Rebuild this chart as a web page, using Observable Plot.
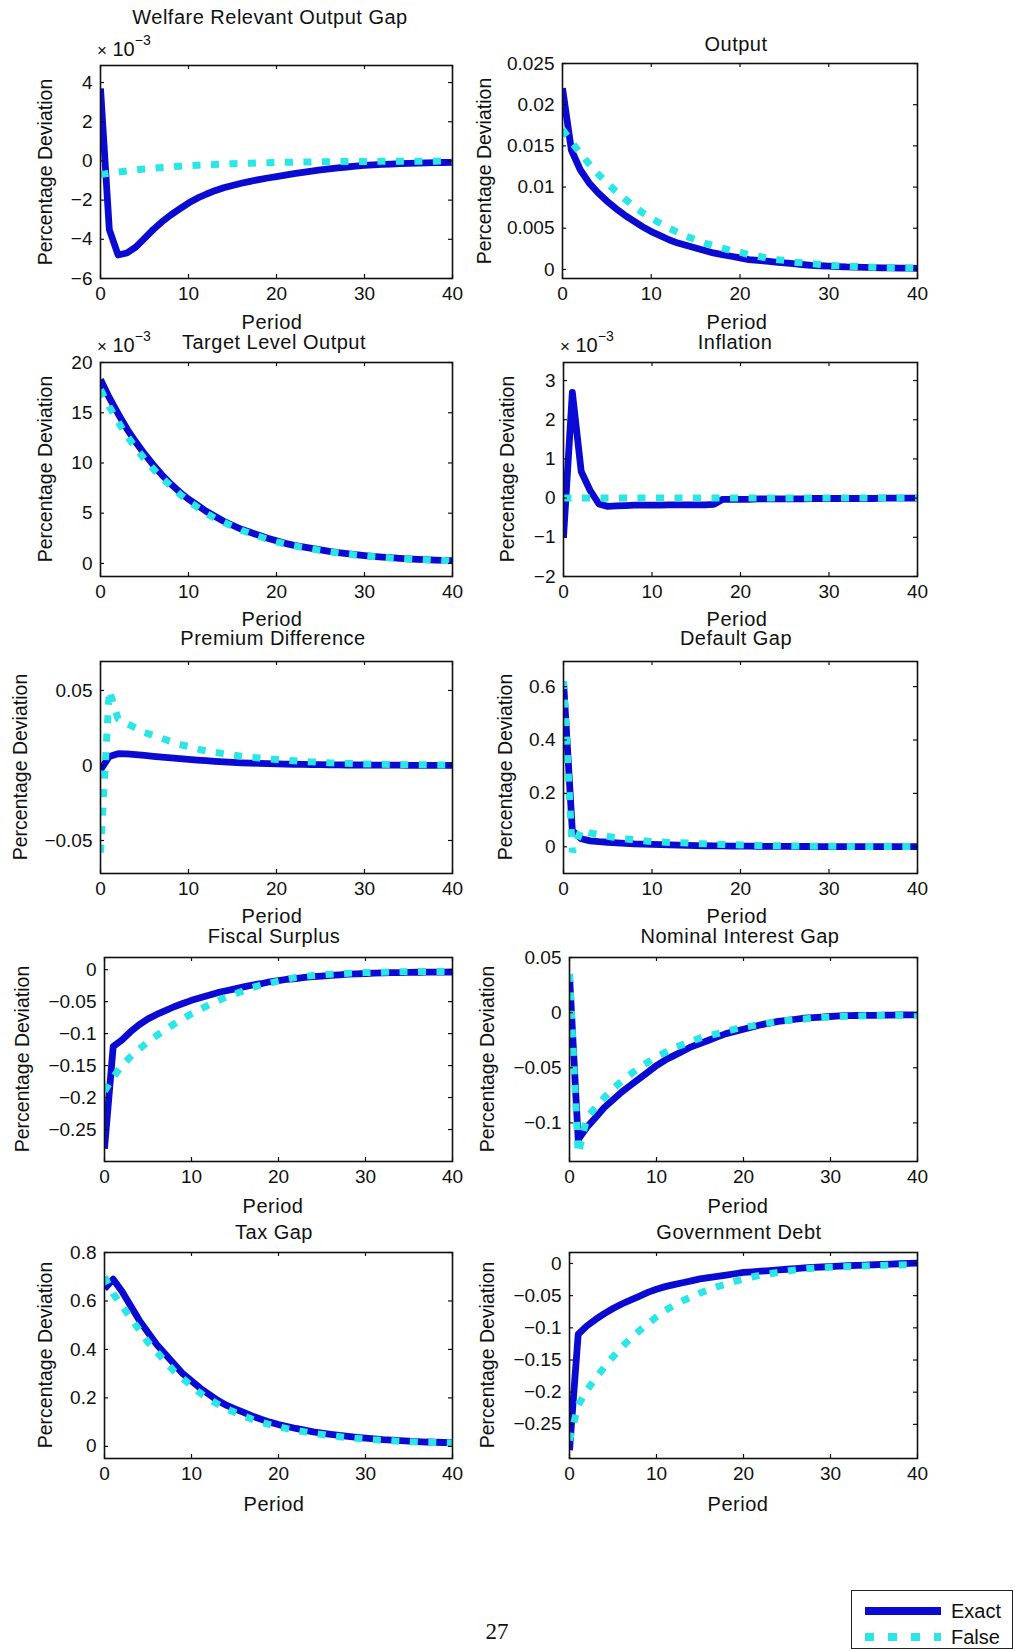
<!DOCTYPE html>
<html><head><meta charset="utf-8">
<script src="https://cdn.jsdelivr.net/npm/d3@7"></script>
<script src="https://cdn.jsdelivr.net/npm/@observablehq/plot@0.6"></script>
<style>
html,body{margin:0;padding:0;background:#fff;}
#page{position:relative;width:1015px;height:1649px;overflow:hidden;background:#fff;font-family:"Liberation Sans",Arial,sans-serif;color:#111;}
.t{position:absolute;white-space:nowrap;transform:translate(-50%,-50%);font-size:20px;line-height:0.82;letter-spacing:0.5px;}
.yl{position:absolute;white-space:nowrap;transform:translate(-50%,-50%) rotate(-90deg);font-size:19.5px;line-height:1;}
.ex{position:absolute;white-space:nowrap;font-size:20px;line-height:1;}
.ex sup{font-size:14px;position:relative;top:-3px;}
</style></head><body><div id="page"></div>
<script>
// ---------- data ----------
const periods = d3.range(0, 41);
const xTicks = [0, 10, 20, 30, 40];
const seriesNames = ["Exact", "False"];

const welfare_exact = [3.7, -3.5, -4.8, -4.7, -4.4, -3.95, -3.5, -3.1, -2.75, -2.45, -2.15, -1.9, -1.7, -1.52, -1.37, -1.25, -1.14, -1.04, -0.95, -0.87, -0.8, -0.72, -0.65, -0.58, -0.52, -0.46, -0.4, -0.35, -0.31, -0.27, -0.23, -0.2, -0.18, -0.16, -0.14, -0.12, -0.11, -0.1, -0.09, -0.08, -0.07];
const welfare_false = [-0.7, -0.63, -0.57, -0.51, -0.46, -0.41, -0.37, -0.33, -0.3, -0.27, -0.24, -0.22, -0.2, -0.18, -0.16, -0.14, -0.13, -0.12, -0.1, -0.09, -0.08, -0.07, -0.065, -0.06, -0.05, -0.045, -0.04, -0.035, -0.03, -0.028, -0.025, -0.022, -0.02, -0.018, -0.016, -0.014, -0.012, -0.011, -0.01, -0.009, -0.008];

const output_exact = [0.022, 0.0145, 0.0121, 0.0105, 0.0093, 0.0083, 0.0074, 0.0066, 0.0059, 0.0052, 0.0046, 0.0041, 0.0036, 0.0032, 0.0029, 0.0026, 0.0023, 0.002, 0.0018, 0.0016, 0.0014, 0.0012, 0.0011, 0.001, 0.0009, 0.0008, 0.0007, 0.0006, 0.0005, 0.00045, 0.0004, 0.00035, 0.0003, 0.00028, 0.00025, 0.00023, 0.0002, 0.00018, 0.00016, 0.00015, 0.00014];
const output_false = [0.017, 0.0155, 0.0141, 0.0128, 0.0116, 0.0105, 0.0095, 0.0086, 0.0077, 0.0069, 0.0062, 0.0056, 0.005, 0.0045, 0.004, 0.0036, 0.0032, 0.0029, 0.0026, 0.0023, 0.0021, 0.0018, 0.0016, 0.0014, 0.0012, 0.0011, 0.0009, 0.0008, 0.0007, 0.0006, 0.0005, 0.00045, 0.0004, 0.00036, 0.00032, 0.00028, 0.00025, 0.00022, 0.0002, 0.00018, 0.00016];

const target_exact = [18.3, 16.5, 14.9, 13.4, 12.1, 10.9, 9.8, 8.8, 7.9, 7.1, 6.4, 5.8, 5.2, 4.7, 4.2, 3.8, 3.4, 3.1, 2.8, 2.5, 2.25, 2.0, 1.8, 1.65, 1.5, 1.35, 1.2, 1.08, 0.97, 0.87, 0.78, 0.7, 0.63, 0.57, 0.51, 0.46, 0.41, 0.37, 0.33, 0.3, 0.27];
const target_false = [17.3, 15.6, 14.1, 12.7, 11.5, 10.4, 9.4, 8.5, 7.7, 6.9, 6.2, 5.6, 5.0, 4.5, 4.1, 3.7, 3.3, 3.0, 2.7, 2.4, 2.15, 1.95, 1.75, 1.6, 1.45, 1.3, 1.17, 1.05, 0.95, 0.85, 0.76, 0.68, 0.61, 0.55, 0.5, 0.45, 0.4, 0.36, 0.32, 0.29, 0.26];

const inflation_exact = [-1.0, 2.7, 0.68, 0.2, -0.15, -0.21, -0.2, -0.19, -0.18, -0.18, -0.18, -0.18, -0.17, -0.17, -0.17, -0.17, -0.17, -0.16, -0.03, -0.03, -0.03, -0.03, -0.02, -0.02, -0.02, -0.02, -0.02, -0.02, -0.01, -0.01, -0.01, -0.01, -0.01, -0.01, -0.01, -0.01, 0, 0, 0, 0, 0];
const inflation_false = [0, 0, 0, 0, 0, 0, 0, 0, 0, 0, 0, 0, 0, 0, 0, 0, 0, 0, 0, 0, 0, 0, 0, 0, 0, 0, 0, 0, 0, 0, 0, 0, 0, 0, 0, 0, 0, 0, 0, 0, 0];

const premium_exact = [-0.003, 0.006, 0.0078, 0.0077, 0.0072, 0.0067, 0.0061, 0.0056, 0.0051, 0.0046, 0.0041, 0.0036, 0.0032, 0.0028, 0.0024, 0.0021, 0.0018, 0.0016, 0.0014, 0.0012, 0.001, 0.0009, 0.0008, 0.0007, 0.0006, 0.0005, 0.0004, 0.0004, 0.0003, 0.0003, 0.0003, 0.0002, 0.0002, 0.0002, 0.0002, 0.0001, 0.0001, 0.0001, 0.0001, 0.0001, 0.0001];
const premium_false = [-0.058, 0.05, 0.031, 0.028, 0.025, 0.022, 0.02, 0.018, 0.016, 0.014, 0.0127, 0.011, 0.0097, 0.0087, 0.0079, 0.007, 0.0062, 0.0056, 0.005, 0.0045, 0.004, 0.0035, 0.0031, 0.0027, 0.0024, 0.0021, 0.0018, 0.0016, 0.0014, 0.0012, 0.001, 0.0009, 0.0008, 0.0007, 0.0006, 0.0005, 0.0004, 0.0004, 0.0003, 0.0003, 0.0002];

const default_exact = [0.62, 0.06, 0.03, 0.022, 0.019, 0.017, 0.015, 0.013, 0.011, 0.01, 0.009, 0.008, 0.007, 0.006, 0.005, 0.0045, 0.004, 0.0036, 0.0032, 0.0028, 0.0025, 0.0022, 0.002, 0.0018, 0.0016, 0.0014, 0.0013, 0.0012, 0.0011, 0.001, 0.0009, 0.0008, 0.0008, 0.0007, 0.0007, 0.0006, 0.0006, 0.0005, 0.0005, 0.0005, 0.0005];
const default_false = [0.62, -0.02, 0.065, 0.052, 0.045, 0.039, 0.034, 0.03, 0.026, 0.023, 0.02, 0.018, 0.016, 0.015, 0.014, 0.012, 0.011, 0.01, 0.009, 0.008, 0.007, 0.006, 0.005, 0.0045, 0.004, 0.0035, 0.003, 0.0027, 0.0024, 0.0021, 0.0019, 0.0017, 0.0015, 0.0014, 0.0013, 0.0012, 0.0011, 0.001, 0.001, 0.001, 0.001];

const fiscal_exact = [-0.28, -0.12, -0.11, -0.097, -0.086, -0.077, -0.07, -0.064, -0.058, -0.053, -0.048, -0.044, -0.04, -0.036, -0.033, -0.03, -0.027, -0.024, -0.022, -0.019, -0.017, -0.015, -0.014, -0.012, -0.011, -0.01, -0.009, -0.008, -0.007, -0.0065, -0.006, -0.0055, -0.005, -0.0047, -0.0045, -0.0043, -0.0041, -0.004, -0.0039, -0.0038, -0.0037];
const fiscal_false = [-0.19, -0.168, -0.15, -0.136, -0.124, -0.113, -0.103, -0.094, -0.085, -0.077, -0.069, -0.062, -0.055, -0.049, -0.043, -0.038, -0.033, -0.028, -0.024, -0.021, -0.018, -0.015, -0.012, -0.0105, -0.0092, -0.0081, -0.0072, -0.0064, -0.0057, -0.0051, -0.0046, -0.0042, -0.0039, -0.0036, -0.0034, -0.0032, -0.003, -0.0029, -0.0028, -0.0027, -0.0026];

const nominal_exact = [0.034, -0.115, -0.104, -0.095, -0.086, -0.079, -0.072, -0.066, -0.06, -0.054, -0.048, -0.043, -0.039, -0.035, -0.031, -0.028, -0.025, -0.022, -0.019, -0.017, -0.015, -0.013, -0.011, -0.0095, -0.008, -0.007, -0.006, -0.005, -0.0045, -0.004, -0.0035, -0.003, -0.0028, -0.0026, -0.0025, -0.0024, -0.0023, -0.0022, -0.0021, -0.002, -0.002];
const nominal_false = [0.035, -0.128, -0.095, -0.086, -0.077, -0.069, -0.062, -0.056, -0.05, -0.045, -0.04, -0.036, -0.032, -0.029, -0.026, -0.023, -0.021, -0.019, -0.017, -0.015, -0.013, -0.012, -0.0105, -0.0093, -0.008, -0.0072, -0.0064, -0.0057, -0.005, -0.0045, -0.004, -0.0035, -0.0032, -0.003, -0.0028, -0.0026, -0.0025, -0.0024, -0.0023, -0.0022, -0.002];

const tax_exact = [0.65, 0.69, 0.64, 0.58, 0.52, 0.47, 0.42, 0.38, 0.34, 0.3, 0.27, 0.24, 0.215, 0.19, 0.17, 0.155, 0.14, 0.125, 0.112, 0.1, 0.09, 0.082, 0.074, 0.067, 0.06, 0.055, 0.05, 0.045, 0.041, 0.037, 0.034, 0.031, 0.028, 0.026, 0.024, 0.022, 0.02, 0.018, 0.017, 0.016, 0.015];
const tax_false = [0.7, 0.63, 0.58, 0.53, 0.48, 0.43, 0.39, 0.35, 0.31, 0.28, 0.25, 0.22, 0.195, 0.175, 0.155, 0.14, 0.125, 0.112, 0.1, 0.09, 0.081, 0.073, 0.066, 0.06, 0.054, 0.049, 0.044, 0.04, 0.036, 0.033, 0.03, 0.027, 0.025, 0.023, 0.021, 0.019, 0.018, 0.017, 0.016, 0.015, 0.014];

const debt_exact = [-0.29, -0.11, -0.097, -0.087, -0.078, -0.07, -0.063, -0.057, -0.051, -0.045, -0.04, -0.036, -0.033, -0.03, -0.027, -0.024, -0.022, -0.02, -0.018, -0.016, -0.014, -0.013, -0.012, -0.011, -0.01, -0.009, -0.008, -0.007, -0.0062, -0.0055, -0.0048, -0.0042, -0.0036, -0.003, -0.0025, -0.002, -0.0015, -0.001, -0.0005, 0, 0.0005];
const debt_false = [-0.275, -0.22, -0.197, -0.178, -0.161, -0.145, -0.13, -0.117, -0.105, -0.094, -0.083, -0.073, -0.065, -0.058, -0.052, -0.046, -0.041, -0.036, -0.032, -0.028, -0.024, -0.021, -0.018, -0.016, -0.014, -0.012, -0.01, -0.0085, -0.0075, -0.0068, -0.006, -0.0054, -0.0048, -0.0043, -0.0038, -0.0033, -0.003, -0.0027, -0.0024, -0.0021, -0.002];

const welfareTicks = [-6, -4, -2, 0, 2, 4];
const outputTicks = [0, 0.005, 0.01, 0.015, 0.02, 0.025];
const targetTicks = [0, 5, 10, 15, 20];
const inflationTicks = [-2, -1, 0, 1, 2, 3];
const premiumTicks = [-0.05, 0, 0.05];
const defaultTicks = [0, 0.2, 0.4, 0.6];
const fiscalTicks = [-0.25, -0.2, -0.15, -0.1, -0.05, 0];
const nominalTicks = [-0.1, -0.05, 0, 0.05];
const taxTicks = [0, 0.2, 0.4, 0.6, 0.8];
const debtTicks = [-0.25, -0.2, -0.15, -0.1, -0.05, 0];

// ---------- layout ----------
const panels = [
  {title: "Welfare Relevant Output Gap", ex: welfare_exact, fa: welfare_false, ticks: welfareTicks, dom: [-6, 4.87],
   frame: [100, 452, 65, 278], tXY: [270, 17], pXY: [272, 322], ylX: 46, exp: [97, 36]},
  {title: "Output", ex: output_exact, fa: output_false, ticks: outputTicks, dom: [-0.0011, 0.025],
   frame: [562, 917, 63, 278], tXY: [736, 44], pXY: [737, 322], ylX: 485},
  {title: "Target Level Output", ex: target_exact, fa: target_false, ticks: targetTicks, dom: [-1.3, 20],
   frame: [100, 452, 362, 576], tXY: [274, 342], pXY: [272, 619], ylX: 46, exp: [97, 332]},
  {title: "Inflation", ex: inflation_exact, fa: inflation_false, ticks: inflationTicks, dom: [-2, 3.46],
   frame: [563, 917, 362, 576], tXY: [735, 342], pXY: [737, 619], ylX: 508, exp: [560, 332]},
  {title: "Premium Difference", ex: premium_exact, fa: premium_false, ticks: premiumTicks, dom: [-0.072, 0.0693],
   frame: [100, 452, 661, 873], tXY: [273, 638], pXY: [272, 916], ylX: 21},
  {title: "Default Gap", ex: default_exact, fa: default_false, ticks: defaultTicks, dom: [-0.1, 0.694],
   frame: [563, 917, 661, 873], tXY: [736, 638], pXY: [737, 916], ylX: 506},
  {title: "Fiscal Surplus", ex: fiscal_exact, fa: fiscal_false, ticks: fiscalTicks, dom: [-0.3, 0.019],
   frame: [104, 452, 957, 1161], tXY: [274, 936], pXY: [273, 1206], ylX: 23},
  {title: "Nominal Interest Gap", ex: nominal_exact, fa: nominal_false, ticks: nominalTicks, dom: [-0.135, 0.05],
   frame: [569, 917, 957, 1161], tXY: [740, 936], pXY: [738, 1206], ylX: 488},
  {title: "Tax Gap", ex: tax_exact, fa: tax_false, ticks: taxTicks, dom: [-0.05, 0.8],
   frame: [104, 452, 1252, 1458], tXY: [274, 1232], pXY: [274, 1504], ylX: 46},
  {title: "Government Debt", ex: debt_exact, fa: debt_false, ticks: debtTicks, dom: [-0.303, 0.017],
   frame: [569, 917, 1252, 1458], tXY: [739, 1232], pXY: [738, 1504], ylX: 488}
];

const EXACT = "#0a0ad2";
const FALSE = "#2ae6e6";
const INK = "#111";
const M = {l: 90, r: 12, t: 12, b: 36};
const fmt = d3.format("~g");
const page = document.getElementById("page");

function addDiv(cls, html, x, y) {
  const d = document.createElement("div");
  d.className = cls;
  d.innerHTML = html;
  d.style.left = x + "px";
  d.style.top = y + "px";
  page.appendChild(d);
  return d;
}

for (const p of panels) {
  const [L, R, T, B] = p.frame;
  const fw = R - L, fh = B - T;
  const chart = Plot.plot({
    width: fw + M.l + M.r,
    height: fh + M.t + M.b,
    marginLeft: M.l, marginRight: M.r, marginTop: M.t, marginBottom: M.b,
    style: {background: "transparent", overflow: "visible", fontFamily: "'Liberation Sans', Arial, sans-serif", fontSize: "19px", color: INK},
    x: {domain: [0, 40]},
    y: {domain: p.dom},
    marks: [
      Plot.line(p.ex, {x: periods, y: p.ex, stroke: EXACT, strokeWidth: 6.8, strokeLinejoin: "round", strokeLinecap: "butt", clip: true}),
      Plot.line(p.fa, {x: periods, y: p.fa, stroke: FALSE, strokeWidth: 7, strokeDasharray: "8,10.5", strokeLinecap: "butt", strokeLinejoin: "miter", clip: true}),
      Plot.tickX(xTicks, {x: d => d, insetTop: fh - 4, stroke: INK, strokeWidth: 1.2}),
      Plot.tickX(xTicks, {x: d => d, insetBottom: fh - 4, stroke: INK, strokeWidth: 1.2}),
      Plot.tickY(p.ticks, {y: d => d, insetRight: fw - 4, stroke: INK, strokeWidth: 1.2}),
      Plot.tickY(p.ticks, {y: d => d, insetLeft: fw - 4, stroke: INK, strokeWidth: 1.2}),
      Plot.frame({stroke: INK, strokeWidth: 1.6}),
      Plot.axisX(xTicks, {anchor: "bottom", tickSize: 0, tickPadding: 8, label: null, tickFormat: fmt}),
      Plot.axisY(p.ticks, {anchor: "left", tickSize: 0, tickPadding: 8, label: null, tickFormat: fmt})
    ]
  });
  chart.style.position = "absolute";
  chart.style.left = (L - M.l) + "px";
  chart.style.top = (T - M.t) + "px";
  page.appendChild(chart);

  addDiv("t", p.title, p.tXY[0], p.tXY[1]);
  addDiv("t", "Period", p.pXY[0], p.pXY[1]);
  addDiv("yl", "Percentage Deviation", p.ylX, (T + B) / 2);
  if (p.exp) addDiv("ex", "<span style='font-size:17px'>×</span>&nbsp;10<sup>−3</sup>", p.exp[0], p.exp[1]);
}

// legend
const leg = document.createElement("div");
leg.style.cssText = "position:absolute;left:851px;top:1590px;width:160px;height:57px;border:1.5px solid #222;background:#fff;";
leg.innerHTML =
  `<svg width="160" height="57" style="position:absolute;left:0;top:0">
     <line x1="13" x2="89" y1="20" y2="20" stroke="${EXACT}" stroke-width="8"/>
     <line x1="13" x2="89" y1="46" y2="46" stroke="${FALSE}" stroke-width="8" stroke-dasharray="9,14"/>
   </svg>
   <div style="position:absolute;left:99px;top:10px;font-size:20px;line-height:1">${seriesNames[0]}</div>
   <div style="position:absolute;left:99px;top:36px;font-size:20px;line-height:1">${seriesNames[1]}</div>`;
page.appendChild(leg);

// page number
const pn = addDiv("t", "27", 497, 1632);
pn.style.fontFamily = "'Liberation Serif', 'DejaVu Serif', serif";
pn.style.fontSize = "23px";
pn.style.letterSpacing = "0";
</script></body></html>
